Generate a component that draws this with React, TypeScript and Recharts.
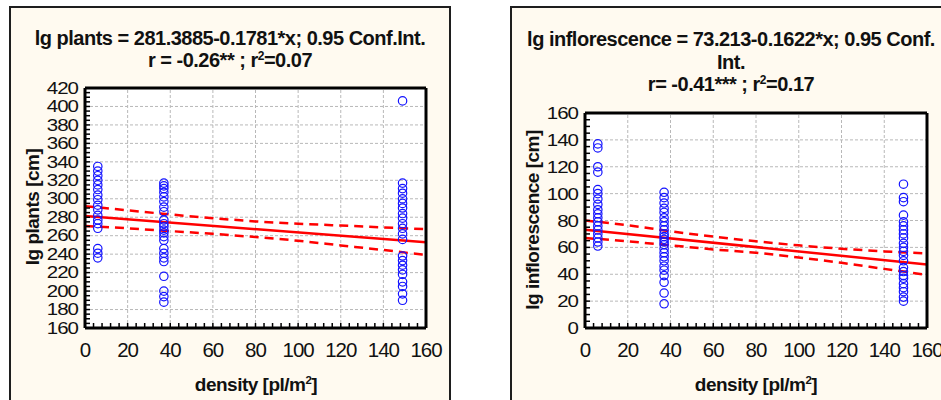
import React from 'react';
import { ComposedChart, Scatter, Line, XAxis, YAxis, ReferenceLine, CartesianGrid } from 'recharts';

// plant densities [pl/m2]
const densities = [6, 37, 149];

// lg plants [cm], one list per density
const plantsAt6 = [335, 330, 325, 320, 315, 310, 304, 299, 293, 288, 282, 277, 273, 268, 246, 241, 236];
const plantsAt37 = [317, 314, 311, 307, 302, 297, 291, 286, 277, 273, 270, 266, 263, 259, 255, 246, 241, 236, 232, 216, 200, 194, 188];
const plantsAt149 = [406, 317, 311, 306, 300, 295, 290, 284, 279, 273, 268, 262, 256, 238, 233, 228, 223, 218, 210, 205, 197, 190];

// lg inflorescence [cm], one list per density
const inflAt6 = [137, 134, 120, 116, 103, 100, 96, 92, 88, 85, 82, 79, 76, 73, 70, 67, 64, 61];
const inflAt37 = [101, 97, 93, 89, 86, 82, 79, 76, 73, 70, 68, 66, 64, 62, 59, 56, 53, 50, 46, 43, 39, 34, 26, 18];
const inflAt149 = [107, 97, 94, 84, 79, 76, 73, 70, 67, 63, 60, 57, 54, 50, 45, 42, 39, 37, 33, 30, 27, 23, 20];

// regression line (ends) and 0.95 confidence band
const fitX = [0, 160];
const plantsFit = [281.39, 252.89];
const inflFit = [73.21, 47.26];
const bandX = [0, 20, 40, 60, 80, 100, 120, 140, 160];
const plantsUpper = [292, 287.5, 283, 279, 275.5, 273, 271, 269, 267];
const plantsLower = [270.5, 268, 265, 262, 258.5, 254.5, 249.5, 244.5, 239];
const inflUpper = [80, 76.5, 72, 68, 64.5, 61.5, 59, 57, 55.5];
const inflLower = [67, 64.5, 61.5, 58.5, 56, 52.5, 48.5, 44, 39.5];

const xTicks = [0, 20, 40, 60, 80, 100, 120, 140, 160];
const plantsTicks = [160, 180, 200, 220, 240, 260, 280, 300, 320, 340, 360, 380, 400, 420];
const inflTicks = [0, 20, 40, 60, 80, 100, 120, 140, 160];

const FONT = "'Liberation Sans', Arial, sans-serif";

const steps = (from: number, to: number, step: number) => {
  const out: number[] = [];
  for (let v = from; v <= to; v += step) out.push(v);
  return out;
};

const toPoints = (xs: number[], ys: number[]) => xs.map((x, i) => ({ x, y: ys[i] }));

const scatterPoints = (cols: number[][]) =>
  densities.flatMap((d, i) => cols[i].map((y) => ({ x: d, y })));

const Ring = (props: any) => (
  <circle cx={props.cx} cy={props.cy} r={4.2} fill="none" stroke="#1414ff" strokeWidth={1.2} />
);

const XTick = (props: any) => {
  const { x, y, payload } = props;
  const major = payload.value % 20 === 0;
  return (
    <g>
      <line x1={x} y1={y} x2={x} y2={y - 5} stroke="#000" strokeWidth={1.5} />
      {major && (
        <text x={x} y={y + 29} textAnchor="middle" fontFamily={FONT} fontSize={20.5} letterSpacing={-1} fill="#111">
          {payload.value}
        </text>
      )}
    </g>
  );
};

const makeYTick = (squeeze: number) => (props: any) => {
  const { x, y, payload } = props;
  const major = payload.value % 20 === 0;
  return (
    <g>
      <line x1={x} y1={y} x2={x + 5} y2={y} stroke="#000" strokeWidth={1.5} />
      {major && (
        <text
          transform={`translate(${x - 7},${y}) scale(1,${squeeze})`}
          textAnchor="end"
          dy="0.36em"
          fontFamily={FONT}
          fontSize={20.5}
          letterSpacing={-1}
          fill="#111"
        >
          {payload.value}
        </text>
      )}
    </g>
  );
};

type PanelChartProps = {
  left: number;
  width: number;
  margin: { top: number; right: number; bottom: number; left: number };
  yDomain: [number, number];
  yTicks: number[];
  squeeze: number;
  points: { x: number; y: number }[];
  fit: { x: number; y: number }[];
  upper: { x: number; y: number }[];
  lower: { x: number; y: number }[];
};

const PanelChart = ({ left, width, margin, yDomain, yTicks, squeeze, points, fit, upper, lower }: PanelChartProps) => {
  const xMinor = steps(0, 160, 4);
  const yMinor = steps(yDomain[0], yDomain[1], 5);
  const inner = yTicks.slice(1, -1);
  return (
    <div style={{ position: 'absolute', left, top: 0 }}>
      <ComposedChart width={width} height={400} margin={margin}>
        <CartesianGrid horizontal={false} vertical={false} fill="#fff" fillOpacity={1} />
        {xTicks.slice(1, -1).map((v) => (
          <ReferenceLine key={'gx' + v} x={v} stroke="#b8b8b8" strokeDasharray="3 2" />
        ))}
        {inner.map((v) => (
          <ReferenceLine key={'gy' + v} y={v} stroke="#b8b8b8" strokeDasharray="3 2" />
        ))}
        <XAxis
          type="number"
          dataKey="x"
          domain={[0, 160]}
          allowDataOverflow
          ticks={xMinor}
          interval={0}
          height={40}
          tickSize={0}
          tickMargin={0}
          tickLine={false}
          axisLine={{ stroke: '#000', strokeWidth: 3 }}
          tick={XTick}
        />
        <XAxis
          xAxisId="top"
          orientation="top"
          mirror
          type="number"
          domain={[0, 160]}
          allowDataOverflow
          ticks={xMinor}
          interval={0}
          tick={false}
          tickSize={4}
          tickLine={{ stroke: '#000', strokeWidth: 1.5 }}
          axisLine={{ stroke: '#000', strokeWidth: 3 }}
        />
        <YAxis
          type="number"
          dataKey="y"
          domain={yDomain}
          allowDataOverflow
          ticks={yMinor}
          interval={0}
          width={50}
          tickSize={0}
          tickMargin={0}
          tickLine={false}
          axisLine={{ stroke: '#000', strokeWidth: 3 }}
          tick={makeYTick(squeeze)}
        />
        <YAxis
          yAxisId="right"
          orientation="right"
          mirror
          type="number"
          domain={yDomain}
          allowDataOverflow
          ticks={yMinor}
          interval={0}
          tick={false}
          tickSize={4}
          tickLine={{ stroke: '#000', strokeWidth: 1.5 }}
          axisLine={{ stroke: '#000', strokeWidth: 3 }}
        />
        <Scatter data={points} shape={Ring} isAnimationActive={false} />
        <Line data={upper} dataKey="y" type="monotone" stroke="#ff0000" strokeWidth={2.5} strokeDasharray="9 6" dot={false} isAnimationActive={false} />
        <Line data={lower} dataKey="y" type="monotone" stroke="#ff0000" strokeWidth={2.5} strokeDasharray="9 6" dot={false} isAnimationActive={false} />
        <Line data={fit} dataKey="y" type="linear" stroke="#ff0000" strokeWidth={2.5} dot={false} isAnimationActive={false} />
      </ComposedChart>
    </div>
  );
};

const titleStyle: React.CSSProperties = {
  position: 'absolute',
  textAlign: 'center',
  fontFamily: FONT,
  fontWeight: 'bold',
  fontSize: 20,
  letterSpacing: -0.5,
  lineHeight: '22px',
  color: '#111',
  whiteSpace: 'nowrap',
};

const axisTitleStyle: React.CSSProperties = {
  position: 'absolute',
  width: 300,
  height: 22,
  textAlign: 'center',
  fontFamily: FONT,
  fontWeight: 'bold',
  fontSize: 19,
  letterSpacing: -0.5,
  lineHeight: '22px',
  color: '#111',
  whiteSpace: 'nowrap',
};

const sup: React.CSSProperties = { fontSize: '0.6em', verticalAlign: '0.6em', lineHeight: 0 };

const panelStyle: React.CSSProperties = {
  position: 'absolute',
  top: 6,
  width: 442,
  height: 430,
  boxSizing: 'border-box',
  border: '2px solid #1e1e1e',
  background: '#fffaf0',
};

const App = () => (
  <div style={{ position: 'absolute', left: 0, top: 0, width: 941, height: 400, overflow: 'hidden', background: '#fff' }}>
    <div style={{ ...panelStyle, left: 9 }} />
    <div style={{ ...panelStyle, left: 510 }} />

    <div style={{ ...titleStyle, left: 9, width: 442, top: 27 }}>
      <div>lg plants = 281.3885-0.1781*x; 0.95 Conf.Int.</div>
      <div>
        r = -0.26** ; r<span style={sup}>2</span>=0.07
      </div>
    </div>
    <div style={{ ...titleStyle, left: 510, width: 442, top: 28, lineHeight: '22.5px' }}>
      <div>lg inflorescence = 73.213-0.1622*x; 0.95 Conf.</div>
      <div>Int.</div>
      <div>
        r= -0.41*** ; r<span style={sup}>2</span>=0.17
      </div>
    </div>

    <PanelChart
      left={0}
      width={470}
      margin={{ top: 88, right: 44, bottom: 32, left: 35 }}
      yDomain={[160, 420]}
      yTicks={plantsTicks}
      squeeze={0.77}
      points={scatterPoints([plantsAt6, plantsAt37, plantsAt149])}
      fit={toPoints(fitX, plantsFit)}
      upper={toPoints(bandX, plantsUpper)}
      lower={toPoints(bandX, plantsLower)}
    />
    <PanelChart
      left={470}
      width={471}
      margin={{ top: 113, right: 14, bottom: 32, left: 65 }}
      yDomain={[0, 160]}
      yTicks={inflTicks}
      squeeze={0.82}
      points={scatterPoints([inflAt6, inflAt37, inflAt149])}
      fit={toPoints(fitX, inflFit)}
      upper={toPoints(bandX, inflUpper)}
      lower={toPoints(bandX, inflLower)}
    />

    <div style={{ ...axisTitleStyle, left: 256 - 150, top: 374 }}>
      density [pl/m<span style={sup}>2</span>]
    </div>
    <div style={{ ...axisTitleStyle, left: 756 - 150, top: 374 }}>
      density [pl/m<span style={sup}>2</span>]
    </div>
    <div style={{ ...axisTitleStyle, left: 33 - 150, top: 207 - 11, transform: 'rotate(-90deg)' }}>lg plants [cm]</div>
    <div style={{ ...axisTitleStyle, left: 533 - 150, top: 220 - 11, transform: 'rotate(-90deg)' }}>
      lg inflorescence [cm]
    </div>
  </div>
);

export default App;
